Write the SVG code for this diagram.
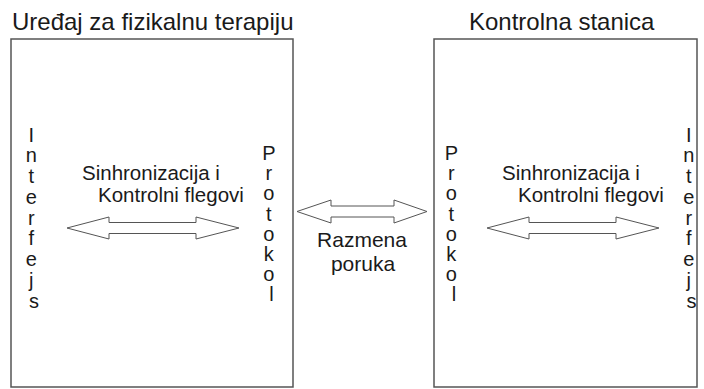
<svg xmlns="http://www.w3.org/2000/svg" width="704" height="389" viewBox="0 0 704 389">
  <defs>
    <style>
      .box { fill: #ffffff; stroke: #555555; stroke-width: 1.5; }
      .title { font-family: "Liberation Sans", Arial, sans-serif; font-size: 24px; fill: #1a1a1a; }
      .lbl { font-family: "Liberation Sans", Arial, sans-serif; font-size: 20.5px; fill: #1a1a1a; }
      .vert { font-family: "Liberation Sans", Arial, sans-serif; font-size: 20px; fill: #1a1a1a; text-anchor: middle; }
      .arrow { fill: #ffffff; stroke: #555555; stroke-width: 1; stroke-linejoin: miter; }
    </style>
  </defs>
  <rect width="704" height="389" fill="#ffffff"/>

  <!-- Physical therapy device -->
  <g id="uredjaj">
    <text class="title" x="12" y="30">Uređaj za fizikalnu terapiju</text>
    <rect class="box" x="11" y="39" width="282" height="348"/>
    <text class="vert">
      <tspan x="34" y="141.5">I</tspan>
      <tspan x="34" y="162.3">n</tspan>
      <tspan x="34" y="183">t</tspan>
      <tspan x="34" y="203.8">e</tspan>
      <tspan x="34" y="224.6">r</tspan>
      <tspan x="34" y="245.4">f</tspan>
      <tspan x="34" y="266.2">e</tspan>
      <tspan x="34" y="287">j</tspan>
      <tspan x="34" y="307.8">s</tspan>
    </text>
    <text class="vert">
      <tspan x="271.5" y="160">P</tspan>
      <tspan x="271.5" y="180.2">r</tspan>
      <tspan x="271.5" y="200.4">o</tspan>
      <tspan x="271.5" y="220.6">t</tspan>
      <tspan x="271.5" y="240.8">o</tspan>
      <tspan x="271.5" y="261">k</tspan>
      <tspan x="271.5" y="281.2">o</tspan>
      <tspan x="271.5" y="301.4">l</tspan>
    </text>
    <text class="lbl" x="82" y="180">Sinhronizacija i</text>
    <text class="lbl" x="98" y="202">Kontrolni flegovi</text>
  </g>

  <!-- Control station -->
  <g id="stanica">
    <text class="title" x="469" y="30">Kontrolna stanica</text>
    <rect class="box" x="434" y="39" width="263" height="348"/>
    <text class="vert">
      <tspan x="454" y="160">P</tspan>
      <tspan x="454" y="180.2">r</tspan>
      <tspan x="454" y="200.4">o</tspan>
      <tspan x="454" y="220.6">t</tspan>
      <tspan x="454" y="240.8">o</tspan>
      <tspan x="454" y="261">k</tspan>
      <tspan x="454" y="281.2">o</tspan>
      <tspan x="454" y="301.4">l</tspan>
    </text>
    <text class="vert">
      <tspan x="691.5" y="141.5">I</tspan>
      <tspan x="691.5" y="162.3">n</tspan>
      <tspan x="691.5" y="183">t</tspan>
      <tspan x="691.5" y="203.8">e</tspan>
      <tspan x="691.5" y="224.6">r</tspan>
      <tspan x="691.5" y="245.4">f</tspan>
      <tspan x="691.5" y="266.2">e</tspan>
      <tspan x="691.5" y="287">j</tspan>
      <tspan x="691.5" y="307.8">s</tspan>
    </text>
    <text class="lbl" x="502" y="180">Sinhronizacija i</text>
    <text class="lbl" x="518" y="202">Kontrolni flegovi</text>
  </g>

  <!-- Double-headed block arrows -->
  <g id="connectors">
    <polygon class="arrow" points="67,228 109,217 109,222.5 196,222.5 196,217 239,228 196,239 196,233.5 109,233.5 109,239"/>
    <polygon class="arrow" points="487,228 529,217 529,222.5 616,222.5 616,217 659,228 616,239 616,233.5 529,233.5 529,239"/>
    <polygon class="arrow" points="297,211.5 331,200 331,206 394,206 394,200 427,211.5 394,223 394,217 331,217 331,223"/>
    <text class="lbl" x="362" y="246.5" text-anchor="middle" style="font-size:21px">Razmena</text>
    <text class="lbl" x="363" y="270.5" text-anchor="middle" style="font-size:21px">poruka</text>
  </g>
</svg>
